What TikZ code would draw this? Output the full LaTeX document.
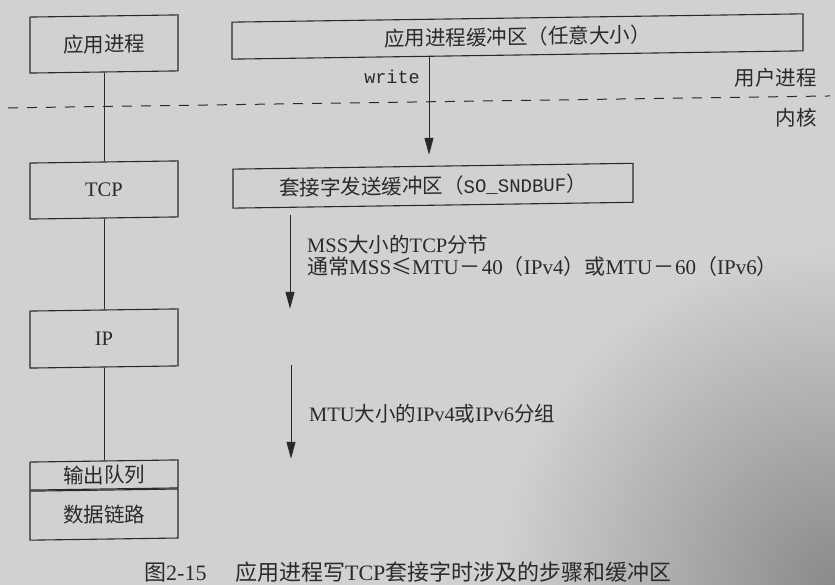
\documentclass[tikz,border=0pt]{standalone}
\usepackage{fontspec}
\setmainfont{Liberation Serif}
\setmonofont{Liberation Mono}
\newfontfamily\cjk{Noto Sans CJK SC}
\newcommand{\hanzi}[1]{{\cjk #1}}
\usetikzlibrary{arrows.meta}
\definecolor{paper}{HTML}{D1D1CF}
\definecolor{paperdark}{HTML}{8A8A88}
\definecolor{ink}{HTML}{2A2A2A}
\tikzset{
  box/.style={draw=ink, line width=1.1pt, inner sep=0pt, transform shape,
    text=ink, font=\fontsize{20.5}{24}\selectfont},
  link/.style={draw=ink, line width=1pt},
  flow/.style={draw=ink, line width=1pt, -{Triangle[length=17pt,width=9pt]}},
  lbl/.style={text=ink, inner sep=0pt, font=\fontsize{20.5}{24}\selectfont},
  codelbl/.style={text=ink, inner sep=0pt, font=\fontsize{18.5}{22}\ttfamily},
  boundary/.style={draw=ink, line width=1pt, dash pattern=on 10pt off 9pt},
}
\begin{document}
\begin{tikzpicture}[x=1pt, y=-1pt]
  % page background
  \useasboundingbox (0,0) rectangle (835,585);
  \fill[paper] (0,0) rectangle (835,585);
  \begin{scope}
    \clip (0,0) rectangle (835,585);
    \shade[inner color=paperdark, outer color=paper] (495,245) rectangle (1175,925);
  \end{scope}

  \begin{scope}[yslant=0.0145]
    % protocol stack (left column)
    \node[box, minimum width=148pt, minimum height=56pt] (app) at (104,45.5) {\hanzi{应用进程}};
    \node[box, minimum width=148pt, minimum height=56pt] (tcp) at (104,191.5) {TCP};
    \node[box, minimum width=148pt, minimum height=57pt] (ip) at (104,340) {IP};
    \node[box, minimum width=148pt, minimum height=28pt] (queue) at (104,476.5) {\hanzi{输出队列}};
    \node[box, minimum width=148pt, minimum height=49pt, anchor=north] (link) at (queue.south) {\hanzi{数据链路}};

    \draw[link] (app.south) -- (tcp.north);
    \draw[link] (tcp.south) -- (ip.north);
    \draw[link] (ip.south) -- (queue.north);

    % buffers (right column)
    \node[box, minimum width=571pt, minimum height=37pt] (appbuf) at (517.5,44) {\hanzi{应用进程缓冲区（任意大小）}};
    \node[box, minimum width=400pt, minimum height=39pt] (sndbuf) at (433,192)
      {\hanzi{套接字发送缓冲区（}{\fontsize{19}{22}\ttfamily SO\_SNDBUF}\hanzi{）}};

    % user / kernel boundary
    \coordinate (bl) at (8,108);
    \coordinate (br) at (830,108);
    \draw[boundary] (bl) -- (br);
    \node[lbl, anchor=east] (user) at (817,90) {\hanzi{用户进程}};
    \node[lbl, anchor=east] (kernel) at (817,130) {\hanzi{内核}};

    % data flow
    \coordinate (w1) at (429,62.5);
    \coordinate (w2) at (429,161);
    \draw[flow] (w1) -- (w2);
    \node[codelbl, anchor=east] (write) at (420,83) {write};

    \coordinate (s1) at (290,219);
    \coordinate (s2) at (290,313);
    \draw[flow] (s1) -- (s2);
    \node[lbl, anchor=west] (seg1) at (307,249) {MSS\hanzi{大小的}TCP\hanzi{分节}};
    \node[lbl, anchor=west, font=\fontsize{21}{24}\selectfont] (seg2) at (307,271)
      {\hanzi{通常}MSS\hanzi{≤}MTU\hspace{1pt}\hanzi{－}\hspace{1pt}40\hanzi{（}IPv4\hanzi{）或}MTU\hspace{1pt}\hanzi{－}\hspace{1pt}60\hanzi{（}IPv6\hanzi{）}};

    \coordinate (p1) at (291,369);
    \coordinate (p2) at (291,463);
    \draw[flow] (p1) -- (p2);
    \node[lbl, anchor=west] (pkt) at (309,418) {MTU\hanzi{大小的}IPv4\hanzi{或}IPv6\hanzi{分组}};

    % caption
    \node[lbl, anchor=west, font=\fontsize{22}{26}\selectfont] (caption) at (144,574)
      {\hanzi{图}2-15\hspace{1.3em}\hanzi{应用进程写}TCP\hanzi{套接字时涉及的步骤和缓冲区}};
  \end{scope}
\end{tikzpicture}
\end{document}
